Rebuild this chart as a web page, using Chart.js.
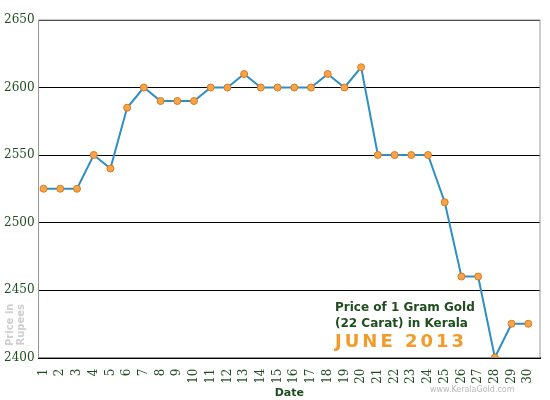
<!DOCTYPE html>
<html><head><meta charset="utf-8">
<script src="https://cdn.jsdelivr.net/npm/chart.js@4.4.0/dist/chart.umd.min.js"></script>
<style>
body{margin:0;background:#fff}
#wrap{position:relative;width:550px;height:400px}
.t{position:absolute;font-family:Verdana,"DejaVu Sans",sans-serif;font-weight:bold}
</style></head><body>
<div id="wrap"><canvas id="c" width="550" height="400"></canvas>
<div class="t" style="left:335px;top:299px;color:#1f4d1f;font-size:12px;line-height:16px">Price of 1 Gram Gold<br>(22 Carat) in Kerala</div>
<div class="t" style="left:335px;top:330px;color:#f39a2b;font-size:18px;letter-spacing:3px">JUNE 2013</div>
<div class="t" style="left:430px;top:385px;color:#b8b8b8;font-size:8px;font-weight:normal">www.KeralaGold.com</div>
<div class="t" style="left:4px;top:346px;color:#cfcfcf;font-size:10px;transform:rotate(-90deg);transform-origin:left top;line-height:11px;text-align:center">Price in<br>Rupees</div>
</div>
<script>
const days = [1,2,3,4,5,6,7,8,9,10,11,12,13,14,15,16,17,18,19,20,21,22,23,24,25,26,27,28,29,30];
const prices = [2525,2525,2525,2550,2540,2585,2600,2590,2590,2590,2600,2600,2610,2600,2600,2600,2600,2610,2600,2615,2550,2550,2550,2550,2515,2460,2460,2400,2425,2425];

const frame = {
  id: 'frame',
  afterDraw(chart) {
    const {ctx, chartArea: a} = chart;
    ctx.save();
    ctx.strokeStyle = '#999';
    ctx.lineWidth = 1;
    ctx.strokeRect(a.left, a.top, a.right - a.left, a.bottom - a.top);
    ctx.restore();
  }
};

new Chart(document.getElementById('c'), {
  type: 'line',
  data: {datasets: [{
    data: days.map((d, i) => ({x: d, y: prices[i]})),
    borderColor: '#2f8fc4', borderWidth: 2, tension: 0,
    pointBackgroundColor: '#f7a54a', pointBorderColor: '#d97a1c', pointRadius: 3.5, pointBorderWidth: 1
  }]},
  options: {
    responsive: false, animation: false,
    layout: {padding: {top: 20, right: 10}},
    plugins: {legend: {display: false}, tooltip: {enabled: false}},
    scales: {
      x: {type: 'linear', min: 0.7, max: 30.7,
        border: {color: '#000', width: 2},
        grid: {display: false, drawTicks: true},
        afterBuildTicks: s => { s.ticks = days.map(v => ({value: v})); },
        ticks: {autoSkip: false, minRotation: 90, maxRotation: 90, color: '#1f4d1f', font: {family: 'DejaVu Serif', size: 12}},
        title: {display: true, text: 'Date', color: '#1f4d1f', font: {family: 'Verdana, DejaVu Sans', weight: 'bold', size: 11}, padding: 0}
      },
      y: {min: 2400, max: 2650,
        border: {color: '#999', width: 1},
        grid: {color: '#000', lineWidth: 1, drawTicks: false},
        ticks: {stepSize: 50, color: '#1f4d1f', padding: 4, font: {family: 'DejaVu Serif', size: 12}, callback: v => String(v)}
      }
    }
  },
  plugins: [frame]
});
</script></body></html>
